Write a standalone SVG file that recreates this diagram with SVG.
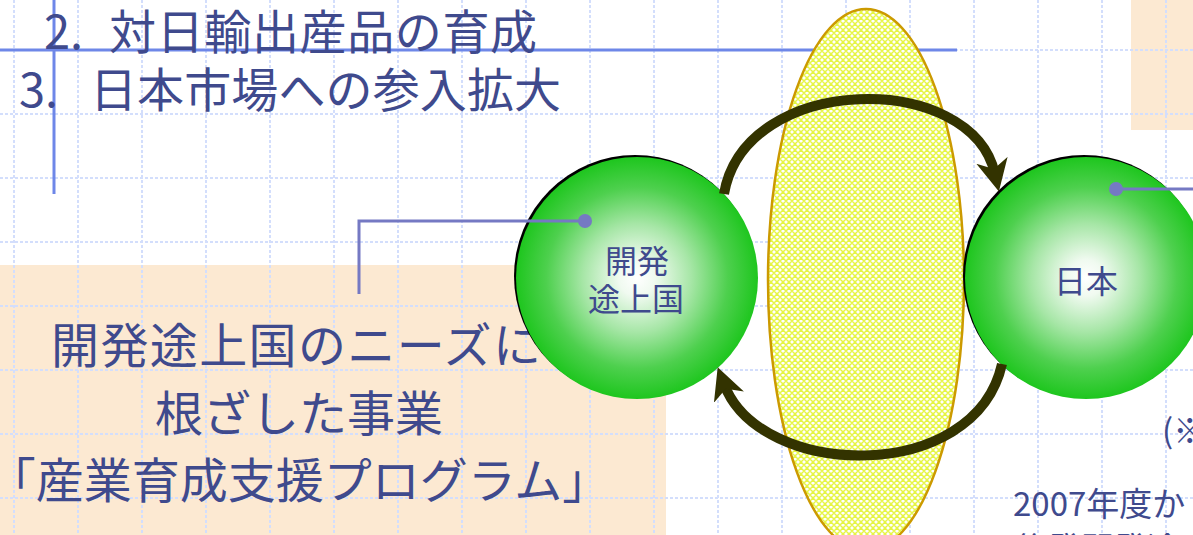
<svg xmlns="http://www.w3.org/2000/svg" width="1193" height="535" viewBox="0 0 1193 535">
<defs>
<style>
.t{font-family:"Noto Sans CJK JP","Noto Sans",sans-serif;fill:#3f4a8d}
.grid line{stroke:#d3defc;stroke-width:2;stroke-dasharray:3 2}
.blue{stroke:#6e87e8;stroke-width:3}
.arc{fill:none;stroke:#333300;stroke-width:10;marker-end:url(#ah)}
.callout{fill:none;stroke:#7579c3;stroke-width:3}
.dot{fill:#7579c3}
.peach{fill:#fce9d2}
</style>
<radialGradient id="ball" cx="0.5" cy="0.5" r="0.5">
<stop offset="0" stop-color="#ffffff"/>
<stop offset="0.15" stop-color="#f0faf0"/>
<stop offset="0.45" stop-color="#a6e6a6"/>
<stop offset="0.75" stop-color="#4ed04e"/>
<stop offset="1" stop-color="#1ec61e"/>
</radialGradient>
<pattern id="hatch" width="6" height="6" patternUnits="userSpaceOnUse">
<rect width="6" height="6" fill="#ffffff"/>
<path d="M0 3 L3 0 L6 3 L3 6 Z" fill="none" stroke="#e6f545" stroke-width="1.5"/>
</pattern>
<marker id="ah" markerUnits="userSpaceOnUse" markerWidth="34" markerHeight="34" viewBox="0 0 34 34" refX="14" refY="17" orient="auto">
<path d="M0 1 L32 17 L0 33 L9 17 Z" fill="#333300"/>
</marker>
</defs>
<rect width="1193" height="535" fill="#ffffff"/>
<rect class="peach" x="0" y="265" width="666" height="270"/>
<rect class="peach" x="1131" y="0" width="62" height="130"/>
<g class="grid">
<line x1="14" y1="0" x2="14" y2="535"/><line x1="78" y1="0" x2="78" y2="535"/><line x1="142" y1="0" x2="142" y2="535"/><line x1="206" y1="0" x2="206" y2="535"/><line x1="270" y1="0" x2="270" y2="535"/><line x1="334" y1="0" x2="334" y2="535"/><line x1="398" y1="0" x2="398" y2="535"/><line x1="462" y1="0" x2="462" y2="535"/><line x1="526" y1="0" x2="526" y2="535"/><line x1="590" y1="0" x2="590" y2="535"/><line x1="654" y1="0" x2="654" y2="535"/><line x1="718" y1="0" x2="718" y2="535"/><line x1="782" y1="0" x2="782" y2="535"/><line x1="846" y1="0" x2="846" y2="535"/><line x1="910" y1="0" x2="910" y2="535"/><line x1="974" y1="0" x2="974" y2="535"/><line x1="1038" y1="0" x2="1038" y2="535"/><line x1="1102" y1="0" x2="1102" y2="535"/><line x1="1166" y1="0" x2="1166" y2="535"/>
<line x1="0" y1="50" x2="1193" y2="50"/><line x1="0" y1="114" x2="1193" y2="114"/><line x1="0" y1="178" x2="1193" y2="178"/><line x1="0" y1="242" x2="1193" y2="242"/><line x1="0" y1="306" x2="1193" y2="306"/><line x1="0" y1="370" x2="1193" y2="370"/><line x1="0" y1="434" x2="1193" y2="434"/><line x1="0" y1="498" x2="1193" y2="498"/>
</g>
<g id="title">
<line class="blue" x1="0" y1="50" x2="957" y2="50"/>
<line class="blue" x1="54" y1="0" x2="54" y2="194"/>
<text class="t" font-size="47" y="49"><tspan x="44">2.</tspan><tspan x="109" textLength="428" lengthAdjust="spacing">対日輸出産品の育成</tspan></text>
<text class="t" font-size="47" y="107"><tspan x="19">3.</tspan><tspan x="90" textLength="471" lengthAdjust="spacing">日本市場への参入拡大</tspan></text>
</g>
<g id="caption">
<text class="t" font-size="48" x="51" y="363" textLength="490" lengthAdjust="spacing">開発途上国のニーズに</text>
<text class="t" font-size="48" x="299" y="431" text-anchor="middle">根ざした事業</text>
<text class="t" font-size="48" x="299" y="498" text-anchor="middle">「産業育成支援プログラム」</text>
</g>
<g id="exchange">
<ellipse cx="866" cy="280" rx="98" ry="271" fill="url(#hatch)" stroke="#cc9a00" stroke-width="2.5"/>
</g>
<g id="node-developing">
<circle cx="635" cy="276" r="121" fill="#000000"/>
<circle cx="637" cy="278" r="121" fill="url(#ball)"/>
<text class="t" font-size="32" x="637" y="273" text-anchor="middle">開発</text>
<text class="t" font-size="32" x="636" y="311" text-anchor="middle">途上国</text>
</g>
<g id="node-japan">
<circle cx="1084" cy="276" r="121" fill="#000000"/>
<circle cx="1086" cy="278" r="121" fill="url(#ball)"/>
<text class="t" font-size="32" x="1086" y="293" text-anchor="middle">日本</text>
</g>
<g id="connectors">
<path class="arc" d="M724 194 C745 72 972 70 995 174"/>
<path class="arc" d="M1002 364 C975 485 760 480 724 384"/>
<path class="callout" d="M585 221 H359 V294"/>
<circle class="dot" cx="585" cy="221" r="7"/>
<path class="callout" d="M1116 189 H1193"/>
<circle class="dot" cx="1116" cy="189" r="7"/>
</g>
<g id="note">
<text class="t" font-size="33" x="1162" y="443">(※</text>
<text class="t" font-size="33" x="1013" y="516">2007年度か</text>
<text class="t" font-size="33" x="1015" y="561">後発開発途上国</text>
</g>
</svg>
